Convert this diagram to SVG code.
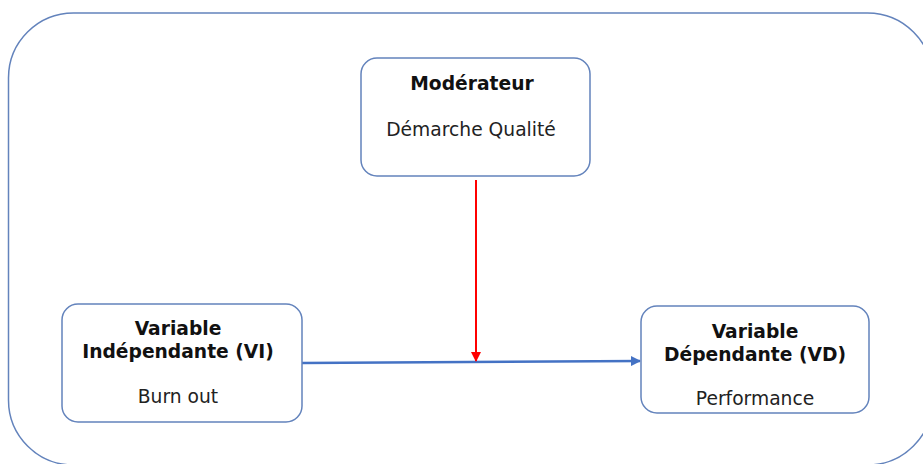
<svg xmlns="http://www.w3.org/2000/svg" width="923" height="464" viewBox="0 0 923 464">
<style>
.box{fill:#fff;stroke:#6383BC;stroke-width:1.5}
.b{font-family:"DejaVu Sans",Verdana,sans-serif;font-weight:bold;font-size:18.7px;fill:#111;text-anchor:middle}
.r{font-family:"DejaVu Sans",Verdana,sans-serif;font-size:18.7px;fill:#222;text-anchor:middle}
</style>
<defs>
<marker id="ab" viewBox="0 0 10 10" refX="9" refY="5" markerWidth="4" markerHeight="4" orient="auto" markerUnits="strokeWidth"><path d="M0,0L10,5L0,10z" fill="#4472C4"/></marker>
<marker id="ar" viewBox="0 0 10 10" refX="9" refY="5" markerWidth="5" markerHeight="5" orient="auto" markerUnits="strokeWidth"><path d="M0,0L10,5L0,10z" fill="#FF0000"/></marker>
</defs>
<rect width="923" height="464" fill="#fff"/>
<rect x="8.5" y="13" width="924" height="452" rx="65" ry="65" fill="none" stroke="#6383BC" stroke-width="1.5"/>
<g id="connectors">
<line x1="302" y1="363" x2="640" y2="361" stroke="#4472C4" stroke-width="2.5" marker-end="url(#ab)"/>
<line x1="476" y1="180" x2="476" y2="361" stroke="#FF0000" stroke-width="2" marker-end="url(#ar)"/>
</g>
<g id="moderateur">
<rect class="box" x="361" y="58" width="229" height="118" rx="16"/>
<text class="b" x="472" y="90">Modérateur</text>
<text class="r" x="471" y="136">Démarche Qualité</text>
</g>
<g id="vi">
<rect class="box" x="62" y="304" width="240" height="118" rx="16"/>
<text class="b" x="178" y="335">Variable</text>
<text class="b" x="178" y="358">Indépendante (VI)</text>
<text class="r" x="178" y="403">Burn out</text>
</g>
<g id="vd">
<rect class="box" x="641" y="306" width="228" height="107" rx="16"/>
<text class="b" x="755" y="338">Variable</text>
<text class="b" x="755" y="361">Dépendante (VD)</text>
<text class="r" x="755" y="405">Performance</text>
</g>
</svg>
